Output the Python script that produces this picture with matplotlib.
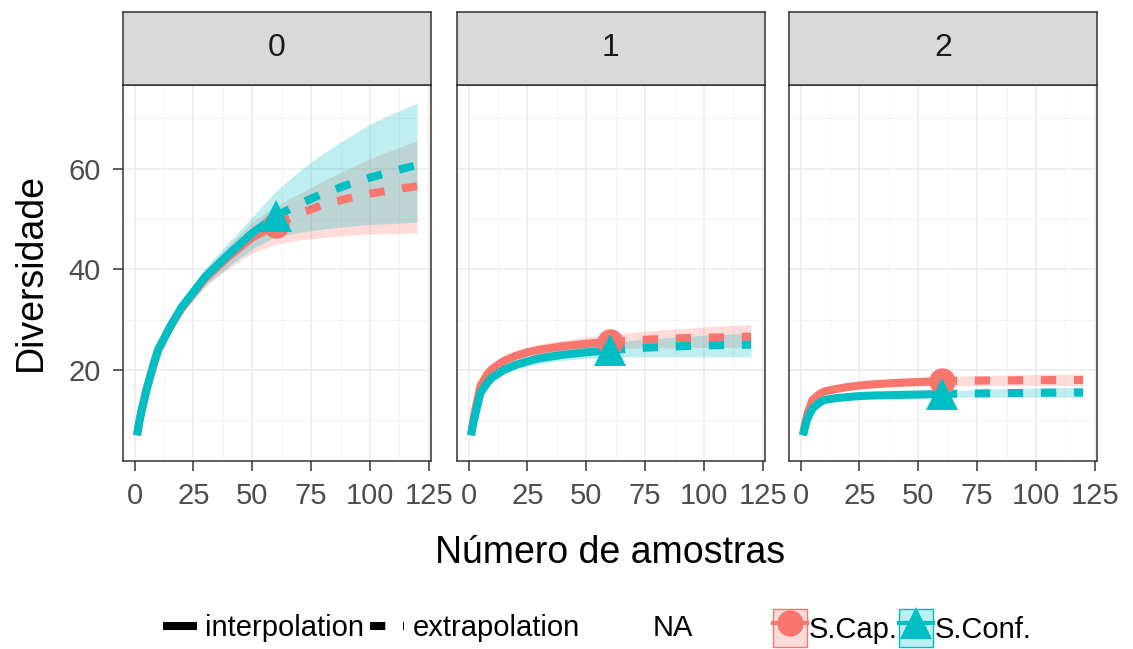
import matplotlib
matplotlib.use("Agg")
import matplotlib.pyplot as plt
from matplotlib.lines import Line2D
from matplotlib.patches import Patch
from matplotlib.legend_handler import HandlerTuple

plt.rcParams['font.family'] = ['Liberation Sans', 'DejaVu Sans']

# ---------------- data ----------------
facets = ["0", "1", "2"]
groups = ["S.Cap.", "S.Conf."]
x_int = [1, 2, 3, 5, 8, 10, 15, 20, 25, 30, 40, 50, 60]
x_ext = [60, 70, 80, 90, 100, 110, 120]
x_ticks = [0, 25, 50, 75, 100, 125]
y_ticks = [20, 40, 60]

# facet 0
cap0_int = [7, 9.8, 12, 16, 21, 24, 28.5, 32.3, 35.3, 38.2, 42.5, 46.3, 48.8]
conf0_int = [7, 9.8, 12, 16, 21, 24, 28.5, 32.5, 35.5, 38.5, 43, 47.2, 50.5]
cap0_ext = [48.8, 51, 52.8, 54, 55, 55.8, 56.5]
conf0_ext = [50.5, 53, 55, 56.7, 58.2, 59.5, 60.7]
cap0_lo = [6.4, 9.2, 11.4, 15.3, 20.2, 23.1, 27.4, 31, 33.8, 36.5, 40.2, 43.2, 45, 45.8, 46.3, 46.7, 47, 47.1, 47.2]
cap0_hi = [7.6, 10.4, 12.6, 16.7, 21.8, 24.9, 29.6, 33.6, 36.8, 39.9, 44.8, 49.4, 52.6, 55, 57.5, 59.8, 62, 63.8, 65.5]
conf0_lo = [6.4, 9.2, 11.4, 15.3, 20.2, 23.1, 27.4, 31.2, 34, 36.8, 40.6, 44, 46.5, 47.3, 48, 48.5, 48.9, 49.1, 49.3]
conf0_hi = [7.6, 10.4, 12.6, 16.7, 21.8, 24.9, 29.6, 33.8, 37, 40.2, 45.4, 50.4, 55.5, 59.5, 63, 66, 68.8, 71, 73]

# facet 1
cap1_int = [7, 10, 12.5, 16.8, 19.2, 20.2, 21.8, 22.8, 23.5, 24, 24.7, 25.2, 25.6]
conf1_int = [7, 9.5, 11.5, 15.4, 17.5, 18.5, 20, 21, 21.7, 22.3, 23, 23.5, 23.9]
cap1_ext = [25.6, 25.9, 26.1, 26.3, 26.4, 26.5, 26.6]
conf1_ext = [23.9, 24.3, 24.5, 24.7, 24.85, 24.95, 25.0]
cap1_lo = [6.5, 9.5, 11.9, 16.1, 18.4, 19.4, 20.9, 21.8, 22.5, 22.9, 23.5, 23.9, 24.2, 24.3, 24.35, 24.4, 24.45, 24.5, 24.5]
cap1_hi = [7.5, 10.5, 13.1, 17.5, 20, 21, 22.7, 23.8, 24.5, 25.1, 25.9, 26.5, 27.0, 27.5, 27.9, 28.2, 28.5, 28.8, 29.0]
conf1_lo = [6.5, 9.0, 10.9, 14.7, 16.8, 17.7, 19.2, 20.1, 20.8, 21.3, 21.9, 22.3, 22.5, 22.6, 22.6, 22.6, 22.6, 22.6, 22.6]
conf1_hi = [7.5, 10.0, 12.1, 16.1, 18.2, 19.3, 20.8, 21.9, 22.6, 23.3, 24.1, 24.7, 25.3, 25.9, 26.3, 26.6, 26.9, 27.1, 27.3]

# facet 2
cap2_int = [7, 9.5, 11.5, 14, 15.2, 15.7, 16.2, 16.6, 16.9, 17.1, 17.4, 17.6, 17.8]
conf2_int = [7, 9.0, 10.5, 12.3, 13.5, 14, 14.4, 14.6, 14.8, 14.9, 15.0, 15.1, 15.2]
cap2_ext = [17.8, 17.85, 17.9, 17.93, 17.96, 17.98, 18.0]
conf2_ext = [15.2, 15.3, 15.35, 15.4, 15.45, 15.48, 15.5]
cap2_lo = [6.5, 9.0, 11, 13.4, 14.6, 15.1, 15.6, 16.0, 16.3, 16.5, 16.7, 16.8, 16.9, 16.9, 16.9, 16.9, 16.9, 16.9, 16.9]
cap2_hi = [7.5, 10.0, 12, 14.6, 15.8, 16.3, 16.8, 17.2, 17.5, 17.7, 18.1, 18.4, 18.7, 18.8, 18.9, 19.0, 19.1, 19.1, 19.2]
conf2_lo = [6.5, 8.5, 10.0, 11.8, 13.0, 13.5, 13.9, 14.1, 14.3, 14.4, 14.5, 14.55, 14.6, 14.6, 14.6, 14.6, 14.6, 14.6, 14.6]
conf2_hi = [7.5, 9.5, 11.0, 12.8, 14.0, 14.5, 14.9, 15.1, 15.3, 15.4, 15.5, 15.65, 15.8, 16.0, 16.2, 16.3, 16.4, 16.5, 16.6]

series = {
    "0": [(cap0_int, cap0_ext, cap0_lo, cap0_hi), (conf0_int, conf0_ext, conf0_lo, conf0_hi)],
    "1": [(cap1_int, cap1_ext, cap1_lo, cap1_hi), (conf1_int, conf1_ext, conf1_lo, conf1_hi)],
    "2": [(cap2_int, cap2_ext, cap2_lo, cap2_hi), (conf2_int, conf2_ext, conf2_lo, conf2_hi)],
}
x_band = x_int + x_ext[1:]

# ---------------- style ----------------
colors = ["#F8766D", "#00BFC4"]
markers = ["o", "^"]
msizes = [19, 23]
LW = 5.8
DASH = (1.9, 2.2)
border = "#333333"
grid_major = "#EBEBEB"
FS_TICK = 21
FS_STRIP = 23
FS_TITLE = 27
FS_LEG = 21

W, H = 1133, 649
fig = plt.figure(figsize=(W / 100, H / 100), dpi=100)

lefts = [123, 457, 789]
pw = 308
ax_bottom = 1 - 461 / H
ax_h = (461 - 85) / H
strip_bottom = 1 - 85 / H
strip_h = (85 - 12) / H

for i, f in enumerate(facets):
    l = lefts[i] / W
    ax = fig.add_axes([l, ax_bottom, pw / W, ax_h])
    ax.set_xlim(-4.95, 125.95)
    ax.set_ylim(1.9, 76.6)
    ax.set_xticks(x_ticks)
    ax.set_xticks([12.5, 37.5, 62.5, 87.5, 112.5], minor=True)
    ax.set_yticks(y_ticks)
    ax.set_yticks([10, 30, 50, 70], minor=True)
    ax.grid(which="major", color=grid_major, lw=1.1)
    ax.grid(which="minor", color="#F2F2F2", lw=0.6)
    ax.set_axisbelow(True)
    ax.tick_params(which="major", length=7.5, width=1.1, color=border,
                   labelsize=FS_TICK, labelcolor="#4D4D4D")
    ax.tick_params(axis="x", pad=7.5)
    ax.tick_params(axis="y", pad=8.5)
    ax.tick_params(which="minor", length=0)
    if i > 0:
        ax.tick_params(axis="y", which="both", left=False, labelleft=False)
    for s in ax.spines.values():
        s.set_color(border)
        s.set_linewidth(1.1)

    for g in range(2):
        yi, ye, lo, hi = series[f][g]
        ax.fill_between(x_band, lo, hi, color=colors[g], alpha=0.25, lw=0)
    for g in range(2):
        yi, ye, lo, hi = series[f][g]
        ax.plot(x_int, yi, color=colors[g], lw=LW, solid_capstyle="butt")
        ax.plot(x_ext, ye, color=colors[g], lw=LW, dashes=DASH, dash_capstyle="butt")
    for g in range(2):
        yi, ye, lo, hi = series[f][g]
        ax.plot([x_int[-1]], [yi[-1]], marker=markers[g], color=colors[g],
                markersize=msizes[g], markeredgewidth=0, linestyle="none")

    sax = fig.add_axes([l, strip_bottom, pw / W, strip_h])
    sax.set_facecolor("#D9D9D9")
    sax.set_xticks([])
    sax.set_yticks([])
    for s in sax.spines.values():
        s.set_color(border)
        s.set_linewidth(1.1)
    sax.text(0.5, 0.5, f, transform=sax.transAxes, ha="center", va="center",
             fontsize=FS_STRIP, color="#1A1A1A")

fig.text(31 / W, 1 - 272 / H, "Diversidade", rotation=90, ha="center", va="center",
         fontsize=FS_TITLE)
fig.text(610 / W, 1 - 563 / H, "Número de amostras", ha="center", va="baseline",
         fontsize=FS_TITLE)

# legends
ly = 1 - 628 / H
lt_handles = [Line2D([], [], color="black", lw=LW, solid_capstyle="butt"),
              Line2D([], [], color="black", lw=LW, dashes=DASH, dash_capstyle="butt")]
leg1 = fig.legend(lt_handles, ["interpolation", "extrapolation"], loc="center left",
                  bbox_to_anchor=(163 / W, ly), ncol=2, frameon=False, fontsize=FS_LEG,
                  handlelength=1.15, handletextpad=0.3, columnspacing=0.2, borderpad=0,
                  borderaxespad=0)
fig.text(673 / W, ly, "NA", ha="center", va="center", fontsize=FS_LEG)

col_handles = []
for g in range(2):
    col_handles.append((Patch(facecolor=colors[g], alpha=0.25, edgecolor="none"),
                        Patch(facecolor="none", edgecolor=colors[g], lw=1.0),
                        Line2D([], [], color=colors[g], marker=markers[g], markersize=msizes[g],
                               markeredgewidth=0, lw=3)))
leg2 = fig.legend(col_handles, groups, loc="center left", bbox_to_anchor=(773 / W, ly),
                  ncol=2, frameon=False, fontsize=FS_LEG, handlelength=1.15, handleheight=1.65,
                  handletextpad=0.08, columnspacing=0.05, borderpad=0, borderaxespad=0,
                  handler_map={tuple: HandlerTuple(ndivide=1, pad=0)})

fig.savefig("out.png", dpi=100, facecolor="white")
